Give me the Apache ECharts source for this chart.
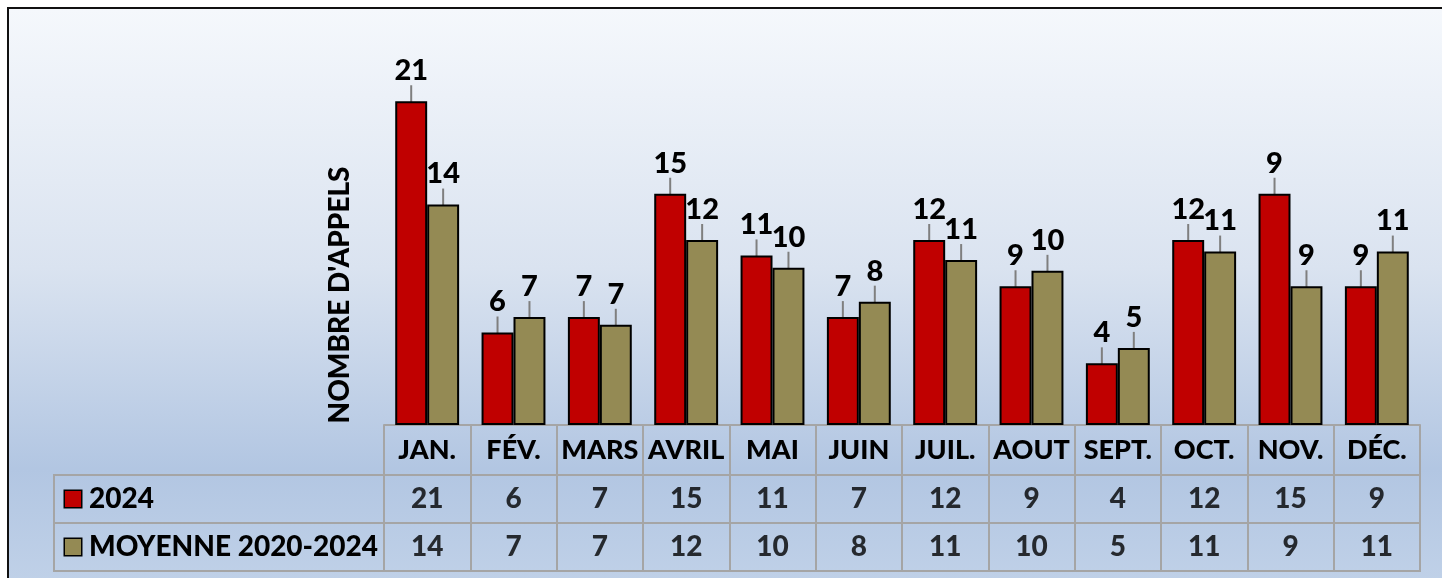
<!DOCTYPE html>
<html>
<head>
<meta charset="utf-8">
<script src="https://cdn.jsdelivr.net/npm/echarts@6/dist/echarts.min.js"></script>
<style>
  html, body { margin: 0; padding: 0; background: #fff; }
  #bg {
    position: absolute; left: 7px; top: 7px; width: 1440px; height: 575px;
    border-left: 2px solid #111; border-top: 2px solid #111;
    background: linear-gradient(to bottom, #f5f8fc 0%, #dae3f0 45%, #b2c6e2 80%, #c0d1e8 100%);
  }
  #main { position: absolute; left: 0; top: 0; width: 1442px; height: 578px; }
</style>
</head>
<body>
<div id="bg"></div>
<div id="main"></div>
<script>
// mois
var months = ['JAN.', 'FÉV.', 'MARS', 'AVRIL', 'MAI', 'JUIN', 'JUIL.', 'AOUT', 'SEPT.', 'OCT.', 'NOV.', 'DÉC.'];
var rows = ['2024', 'MOYENNE 2020-2024'];
// hauteurs des barres
var val2024 = [21, 6, 7, 15, 11, 7, 12, 9, 4, 12, 15, 9];
var valMoy = [14.3, 7.0, 6.5, 12.0, 10.2, 8.0, 10.7, 10.0, 5.0, 11.25, 9.0, 11.25];
// etiquettes au-dessus des barres
var lbl2024 = [21, 6, 7, 15, 11, 7, 12, 9, 4, 12, 9, 9];
var lblMoy = [14, 7, 7, 12, 10, 8, 11, 10, 5, 11, 9, 11];
// tableau de donnees
var tbl2024 = [21, 6, 7, 15, 11, 7, 12, 9, 4, 12, 15, 9];
var tblMoy = [14, 7, 7, 12, 10, 8, 11, 10, 5, 11, 9, 11];

var chart = echarts.init(document.getElementById('main'));
var FONT = 'Lato';
var W = 900;
var gray = '#a5a5a5';

var tableData = [];
months.forEach(function (m, i) {
    tableData.push([m, rows[0], tbl2024[i]]);
    tableData.push([m, rows[1], tblMoy[i]]);
});

function barLabel(arr) {
    return {
        show: true,
        position: 'top',
        distance: 2,
        color: '#000',
        fontFamily: FONT,
        fontWeight: W,
        fontSize: 29,
        formatter: function (p) { return arr[p.dataIndex]; }
    };
}

var option = {
    animation: false,
    backgroundColor: 'transparent',
    textStyle: { fontFamily: FONT },
    grid: [
        { left: 384, right: 22, top: 55, height: 370 },
        { left: 384, right: 22, top: 475, height: 96, show: true, borderColor: gray, borderWidth: 2, backgroundColor: 'transparent' },
        { left: 54, width: 330, top: 475, height: 96, show: true, borderColor: gray, borderWidth: 2, backgroundColor: 'transparent' }
    ],
    xAxis: [{
        type: 'category', gridIndex: 0, data: months,
        axisLine: { lineStyle: { color: gray, width: 2 } },
        axisTick: { show: true, length: 50, lineStyle: { color: gray, width: 2 } },
        axisLabel: { color: '#000', fontFamily: FONT, fontWeight: W, fontSize: 27, margin: 12, interval: 0 }
    }, {
        type: 'category', gridIndex: 1, data: months,
        axisLine: { show: false }, axisTick: { show: false }, axisLabel: { show: false },
        splitLine: { show: true, interval: 0, lineStyle: { color: gray, width: 2 } }
    }, {
        type: 'category', gridIndex: 2, data: [''],
        axisLine: { show: false }, axisTick: { show: false }, axisLabel: { show: false }
    }],
    yAxis: [{
        type: 'value', gridIndex: 0, min: 0, max: 24,
        axisLine: { show: false }, axisTick: { show: false }, axisLabel: { show: false },
        splitLine: { show: false }
    }, {
        type: 'category', gridIndex: 1, data: rows, inverse: true,
        axisLine: { show: false }, axisTick: { show: false }, axisLabel: { show: false },
        splitLine: { show: true, interval: 0, lineStyle: { color: gray, width: 2 } }
    }, {
        type: 'category', gridIndex: 2, data: rows, inverse: true,
        axisLine: { show: false }, axisTick: { show: false },
        splitLine: { show: true, interval: 0, lineStyle: { color: gray, width: 2 } },
        axisLabel: {
            inside: true, margin: 11, align: 'left',
            formatter: function (v, i) { return '{' + (i === 0 ? 'r' : 'o') + '| }{t|' + v + '}'; },
            rich: {
                r: { width: 16, height: 16, backgroundColor: '#c00000', borderColor: '#000', borderWidth: 1.5 },
                o: { width: 16, height: 16, backgroundColor: '#948a54', borderColor: '#000', borderWidth: 1.5 },
                t: { color: '#000', fontFamily: FONT, fontWeight: W, fontSize: 28, padding: [0, 0, 0, 8] }
            }
        }
    }],
    series: [{
        name: '2024', type: 'bar', xAxisIndex: 0, yAxisIndex: 0,
        data: val2024,
        barGap: '0%', barCategoryGap: '26%',
        itemStyle: { color: '#c00000', borderColor: '#000', borderWidth: 2 },
        label: barLabel(lbl2024),
        labelLayout: { dy: -14 },
        labelLine: { show: true, length2: 0, lineStyle: { color: '#7f7f7f', width: 2 } }
    }, {
        name: 'MOYENNE 2020-2024', type: 'bar', xAxisIndex: 0, yAxisIndex: 0,
        data: valMoy,
        itemStyle: { color: '#948a54', borderColor: '#000', borderWidth: 2 },
        label: barLabel(lblMoy),
        labelLayout: { dy: -14 },
        labelLine: { show: true, length2: 0, lineStyle: { color: '#7f7f7f', width: 2 } }
    }, {
        type: 'scatter', xAxisIndex: 1, yAxisIndex: 1,
        symbolSize: 1, itemStyle: { color: 'transparent' },
        data: tableData,
        label: {
            show: true, position: 'inside', color: '#000',
            fontFamily: FONT, fontWeight: W, fontSize: 28,
            formatter: function (p) { return p.value[2]; }
        }
    }],
    graphic: [{
        type: 'text', x: 340, y: 295, rotation: Math.PI / 2,
        style: {
            text: "NOMBRE D'APPELS", fill: '#000',
            font: '900 28px Lato', align: 'center', verticalAlign: 'middle'
        }
    }]
};

chart.setOption(option);
</script>
</body>
</html>
